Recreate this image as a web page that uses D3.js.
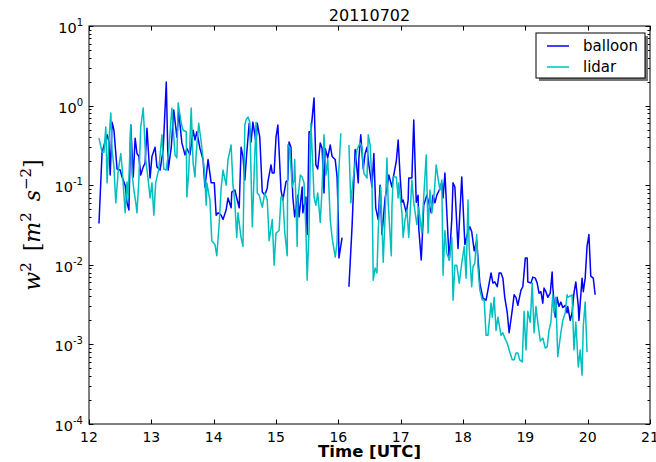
<!DOCTYPE html>
<html>
<head>
<meta charset="utf-8">
<script src="https://cdnjs.cloudflare.com/ajax/libs/d3/7.8.5/d3.min.js"></script>
<style>
  body { margin: 0; background: #fff; }
  text { font-family: "DejaVu Sans", sans-serif; }
</style>
</head>
<body>
<div id="chart"></div>
<script>
// balloon w^2 (time in UTC hours), null marks the data gap
var balloonTime = [12.16,12.21,12.29,12.32,12.34,12.37,12.40,12.45,12.50,12.53,12.58,12.61,12.64,12.67,12.71,12.74,12.77,12.80,12.83,12.87,12.90,12.93,12.98,13.01,13.06,13.09,13.14,13.19,13.24,13.27,13.32,13.36,13.41,13.44,13.49,13.54,13.57,13.62,13.67,13.70,13.73,13.78,13.83,13.86,13.91,13.96,14.01,14.04,14.07,14.12,14.15,14.20,14.23,14.28,14.29,14.34,14.37,14.41,14.44,14.47,14.50,14.53,14.57,14.60,14.63,14.68,14.70,14.74,14.78,14.82,14.86,14.87,14.92,14.94,14.97,15.00,15.03,15.08,15.11,15.16,15.19,15.21,15.24,15.27,15.30,15.35,15.37,15.42,15.43,15.48,15.50,15.53,15.56,15.61,15.64,15.67,15.71,15.74,15.77,15.79,15.83,15.87,15.90,15.95,15.98,16.00,16.01,16.06,16.11,16.17,16.22,16.27,16.32,16.33,16.36,16.40,16.43,16.46,16.49,16.54,16.57,16.60,16.64,16.67,16.70,16.75,16.78,16.81,16.86,16.88,16.93,16.96,16.99,17.02,17.04,17.09,17.12,17.13,17.18,17.21,17.25,17.28,17.29,17.33,17.36,17.37,17.42,17.44,17.49,17.52,17.55,17.58,17.62,17.66,17.68,17.71,17.76,17.78,17.82,17.84,17.87,17.92,17.98,18.03,18.08,18.11,18.14,18.18,18.22,18.27,18.32,18.37,18.40,18.45,18.48,18.51,18.55,18.58,18.61,18.64,18.67,18.71,18.74,18.79,18.82,18.85,18.88,18.93,18.96,19.00,19.03,19.04,19.09,19.12,19.16,19.19,19.22,19.25,19.28,19.30,19.33,19.36,19.40,19.43,19.44,19.48,19.51,19.54,19.57,19.60,19.64,19.67,19.68,19.72,19.75,19.78,19.81,19.85,19.86,19.91,19.93,19.96,19.99,20.02,20.05,20.09,20.12];
var balloonW2 = [0.033,0.26,0.43,0.35,0.134,0.62,0.49,0.16,0.155,0.127,0.10,0.060,0.049,0.57,0.127,0.39,0.25,0.23,0.134,0.17,0.19,0.52,0.123,0.23,0.30,0.17,0.155,0.28,1.98,0.155,0.30,0.88,0.40,0.83,0.34,0.24,0.29,0.24,0.49,0.37,0.47,0.29,0.21,0.095,0.21,0.107,0.107,0.042,0.045,0.042,0.037,0.049,0.069,0.052,0.082,0.087,0.069,0.052,0.30,0.23,0.116,0.25,0.60,0.35,0.62,0.34,0.60,0.40,0.082,0.075,0.092,0.110,0.18,0.142,0.142,0.40,0.57,0.087,0.065,0.110,0.116,0.35,0.30,0.071,0.040,0.075,0.040,0.095,0.045,0.071,0.024,0.47,0.47,1.25,0.18,0.16,0.34,0.29,0.080,0.29,0.22,0.32,0.23,0.21,0.127,0.037,0.0122,0.022,null,0.0053,0.030,0.28,0.107,0.22,0.43,0.16,0.25,0.30,0.18,0.095,0.25,0.052,0.037,0.10,0.024,0.069,0.092,0.134,0.095,0.123,0.20,0.37,0.134,0.061,0.065,0.045,0.065,0.123,0.123,0.66,0.061,0.075,0.029,0.0115,0.037,0.056,0.075,0.065,0.045,0.075,0.060,0.075,0.087,0.107,0.069,0.142,0.022,0.0115,0.037,0.107,0.095,0.016,0.127,0.018,0.026,0.030,0.026,0.015,0.020,0.0059,0.0038,0.0036,0.0048,0.0079,0.0059,0.0061,0.0053,0.0079,0.0079,0.0068,0.0039,0.0025,0.0014,0.0027,0.0042,0.0039,0.0031,0.0048,0.0053,0.0122,0.0122,0.0061,0.0059,0.0070,0.0068,0.0059,0.0044,0.0046,0.0033,0.0051,0.0046,0.0039,0.0044,0.0081,0.0053,0.0022,0.0039,0.0030,0.0034,0.0029,0.0031,0.0025,0.0030,0.0020,0.0025,0.0044,0.0061,0.0030,0.0020,0.0068,0.0046,0.0068,0.017,0.024,0.0072,0.0068,0.0042];

// lidar w^2
var lidarTime = [12.16,12.21,12.24,12.27,12.29,12.32,12.35,12.37,12.40,12.43,12.47,12.51,12.53,12.58,12.61,12.63,12.67,12.69,12.72,12.75,12.77,12.80,12.83,12.87,12.91,12.95,12.98,13.01,13.04,13.07,13.12,13.16,13.17,13.20,13.24,13.28,13.33,13.38,13.41,13.43,13.48,13.51,13.56,13.57,13.60,13.64,13.67,13.70,13.72,13.76,13.80,13.85,13.88,13.89,13.94,13.97,14.02,14.05,14.09,14.12,14.15,14.20,14.23,14.28,14.31,14.34,14.37,14.39,14.44,14.47,14.50,14.52,14.55,14.58,14.62,14.65,14.68,14.70,14.73,14.76,14.78,14.82,14.86,14.89,14.94,14.97,15.00,15.05,15.08,15.11,15.14,15.18,15.19,15.22,15.26,15.29,15.30,15.34,15.35,15.39,15.42,15.45,15.48,15.50,15.53,15.56,15.59,15.61,15.64,15.67,15.71,15.74,15.77,15.80,15.83,15.87,15.90,15.95,15.98,16.00,16.04,16.10,16.17,16.20,16.24,16.27,16.30,16.35,16.38,16.41,16.46,16.48,16.51,16.54,16.56,16.59,16.62,16.64,16.68,16.72,16.75,16.78,16.80,16.85,16.86,16.88,16.93,16.96,16.97,17.02,17.04,17.07,17.10,17.13,17.18,17.21,17.26,17.29,17.34,17.37,17.41,17.44,17.47,17.50,17.54,17.57,17.60,17.63,17.66,17.68,17.71,17.74,17.78,17.82,17.84,17.87,17.90,17.94,17.98,18.02,18.05,18.08,18.10,18.14,18.16,18.19,18.22,18.24,18.27,18.31,18.34,18.37,18.40,18.45,18.47,18.50,18.53,18.56,18.61,18.64,18.67,18.71,18.74,18.79,18.82,18.85,18.88,18.91,18.95,18.98,19.01,19.04,19.08,19.11,19.14,19.17,19.20,19.24,19.28,19.32,19.35,19.38,19.41,19.44,19.46,19.49,19.52,19.57,19.60,19.64,19.67,19.68,19.75,19.78,19.81,19.85,19.88,19.91,19.93,19.96,19.99];
var lidarW2 = [0.39,0.26,0.26,0.54,0.107,0.37,0.81,0.28,0.17,0.060,0.155,0.25,0.17,0.045,0.110,0.069,0.57,0.142,0.087,0.061,0.045,0.116,0.54,0.93,0.21,0.116,0.069,0.107,0.042,0.107,0.16,0.35,0.43,0.16,0.155,0.28,0.93,0.24,0.22,1.08,0.60,0.49,0.47,0.071,0.147,0.93,0.19,0.127,0.25,0.60,0.35,0.155,0.056,0.107,0.065,0.020,0.018,0.013,0.034,0.092,0.155,0.10,0.21,0.32,0.10,0.060,0.022,0.045,0.022,0.017,0.57,0.66,0.72,0.62,0.030,0.147,0.62,0.080,0.075,0.060,0.053,0.080,0.065,0.020,0.037,0.0099,0.025,0.027,0.071,0.071,0.026,0.013,0.32,0.30,0.095,0.116,0.21,0.017,0.065,0.134,0.127,0.107,0.027,0.0064,0.027,0.60,0.18,0.071,0.056,0.080,0.034,0.095,0.43,0.134,0.21,0.037,0.022,0.0125,0.019,0.116,0.45,null,0.32,0.060,0.123,0.19,0.28,0.34,0.30,0.142,0.123,0.43,0.32,0.107,0.0064,0.0091,0.0079,0.027,0.095,0.0108,0.040,0.22,0.060,0.013,0.053,0.127,0.127,0.069,0.107,0.045,0.022,0.037,0.049,0.022,0.116,0.060,0.032,0.053,0.025,0.071,0.24,0.025,0.087,0.045,0.082,0.18,0.123,0.087,0.116,0.0074,0.027,0.014,0.0115,0.022,0.0036,0.0099,0.0099,0.0059,0.0105,0.017,0.0068,0.065,0.016,0.0053,0.0094,0.0105,0.024,0.0094,0.0048,0.0036,0.0036,0.0013,0.0013,0.0033,0.0022,0.0039,0.0015,0.0022,0.0013,0.0014,0.0012,0.00104,0.00085,0.00064,0.00064,0.00078,0.00078,0.00064,0.00060,0.0026,0.00085,0.0026,0.0019,0.0059,0.0014,0.0030,0.0019,0.0011,0.0012,0.00090,0.00093,0.0015,0.0019,0.0042,0.0025,0.0039,0.00070,0.0014,0.0020,0.0025,0.0042,0.0039,0.0042,0.00085,0.0019,0.00052,0.00085,0.00041,0.0017,0.0034,0.00080];

var xTicks = [12,13,14,15,16,17,18,19,20,21];
var yExponents = [1,0,-1,-2,-3,-4];
var seriesNames = ["balloon", "lidar"];
var seriesColors = ["#0000ff", "#00bfbf"];

var W = 656, H = 462;
var m = {left: 89, right: 6, top: 26, bottom: 38};
var iw = W - m.left - m.right, ih = H - m.top - m.bottom;

var svg = d3.select("#chart").append("svg").attr("width", W).attr("height", H);
var g = svg.append("g").attr("transform", "translate(" + m.left + "," + m.top + ")");

var x = d3.scaleLinear().domain([12, 21]).range([0, iw]);
var y = d3.scaleLog().domain([1e-4, 1e1]).range([ih, 0]);

// clip for lines
svg.append("clipPath").attr("id", "clip").append("rect").attr("width", iw).attr("height", ih);

function makeSeries(ts, vs) {
  return ts.map(function (t, i) { return {t: t, v: vs[i]}; });
}
var line = d3.line()
  .defined(function (d) { return d.v != null; })
  .x(function (d) { return x(d.t); })
  .y(function (d) { return y(d.v); });

var series = [makeSeries(balloonTime, balloonW2), makeSeries(lidarTime, lidarW2)];
series.forEach(function (s, i) {
  g.append("path")
    .datum(s)
    .attr("clip-path", "url(#clip)")
    .attr("fill", "none")
    .attr("stroke", seriesColors[i])
    .attr("stroke-width", 1.5)
    .attr("stroke-linejoin", "round")
    .attr("d", line);
});

// frame
g.append("rect").attr("width", iw).attr("height", ih)
  .attr("fill", "none").attr("stroke", "#000").attr("stroke-width", 1);

// x ticks (inward, top and bottom)
xTicks.forEach(function (t) {
  var px = Math.round(x(t)) + 0.5;
  g.append("line").attr("x1", px).attr("x2", px).attr("y1", ih).attr("y2", ih - 4.5).attr("stroke", "#000");
  g.append("line").attr("x1", px).attr("x2", px).attr("y1", 0).attr("y2", 4.5).attr("stroke", "#000");
  g.append("text").attr("x", x(t)).attr("y", ih + 18)
    .attr("text-anchor", "middle").style("font-size", "14px").text(t);
});

// y ticks: major and minor, inward on both sides
yExponents.forEach(function (e) {
  var py = Math.round(y(Math.pow(10, e))) + 0.5;
  g.append("line").attr("x1", 0).attr("x2", 4.5).attr("y1", py).attr("y2", py).attr("stroke", "#000");
  g.append("line").attr("x1", iw).attr("x2", iw - 4.5).attr("y1", py).attr("y2", py).attr("stroke", "#000");
  var lab = g.append("text").attr("x", -6).attr("y", py + 6)
    .attr("text-anchor", "end").style("font-size", "14.5px");
  lab.append("tspan").text("10");
  lab.append("tspan").attr("dy", -7).style("font-size", "10px").text(String(e));
  if (e > -4) {
    for (var k = 2; k <= 9; k++) {
      var my = Math.round(y(k * Math.pow(10, e - 1))) + 0.5;
      g.append("line").attr("x1", 0).attr("x2", 2.5).attr("y1", my).attr("y2", my).attr("stroke", "#000");
      g.append("line").attr("x1", iw).attr("x2", iw - 2.5).attr("y1", my).attr("y2", my).attr("stroke", "#000");
    }
  }
});

// title
svg.append("text").attr("x", m.left + iw / 2).attr("y", 21)
  .attr("text-anchor", "middle").style("font-size", "16px").text("20110702");

// x label
svg.append("text").attr("x", m.left + iw / 2).attr("y", 457)
  .attr("text-anchor", "middle").style("font-size", "16.5px").style("font-weight", "bold")
  .text("Time [UTC]");

// y label (math style)
var yl = svg.append("text")
  .attr("transform", "translate(40," + (m.top + ih / 2) + ") rotate(-90)")
  .attr("text-anchor", "middle")
  .style("font-family", "'DejaVu Serif', serif")
  .style("font-size", "22px");
yl.append("tspan").style("font-style", "italic").text("w");
yl.append("tspan").attr("dy", -9).style("font-size", "15px").text("2");
yl.append("tspan").attr("dy", 9).text("\u2002[");
yl.append("tspan").style("font-style", "italic").text("m");
yl.append("tspan").attr("dy", -9).style("font-size", "15px").text("2");
yl.append("tspan").attr("dy", 9).text("\u2002");
yl.append("tspan").style("font-style", "italic").text("s");
yl.append("tspan").attr("dy", -9).style("font-size", "15px").text("\u22122");
yl.append("tspan").attr("dy", 9).text("]");

// legend with shadow
var lg = svg.append("g").attr("transform", "translate(536,33)");
lg.append("rect").attr("x", 3).attr("y", 3).attr("width", 109).attr("height", 45).attr("fill", "#777");
lg.append("rect").attr("width", 109).attr("height", 45).attr("fill", "#fff").attr("stroke", "#000");
seriesNames.forEach(function (name, i) {
  var ly = 13 + i * 21;
  lg.append("line").attr("x1", 11).attr("x2", 33).attr("y1", ly).attr("y2", ly)
    .attr("stroke", seriesColors[i]).attr("stroke-width", 1.5);
  lg.append("text").attr("x", 47).attr("y", ly + 5).style("font-size", "15px").text(name);
});
</script>
</body>
</html>
